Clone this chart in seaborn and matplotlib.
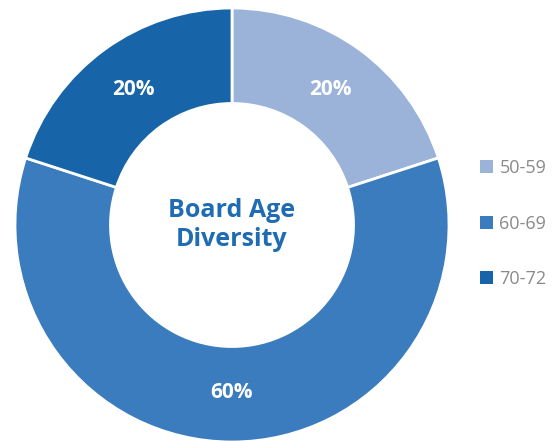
import matplotlib
matplotlib.use("Agg")
import matplotlib.pyplot as plt
import seaborn as sns
from matplotlib.patches import Patch

categories = ["50-59", "60-69", "70-72"]
values = [20, 60, 20]
colors = ["#9bb3d9", "#3a7cbd", "#1764a8"]
center_title = "Board Age\nDiversity"

sns.set_theme(style="white")
plt.rcParams['font.family'] = ['Open Sans', 'DejaVu Sans']

W, H = 557, 441
fig = plt.figure(figsize=(W / 100, H / 100), dpi=100)
cx, cy, r = 232, 225, 217
ax = fig.add_axes([(cx - r) / W, (H - cy - r) / H, 2 * r / W, 2 * r / H])

wedges, texts, autotexts = ax.pie(
    values, colors=colors, startangle=90, counterclock=False, radius=1.0,
    autopct=lambda p: f"{p:.0f}%", pctdistance=0.77,
    wedgeprops=dict(width=0.44, edgecolor="white", linewidth=2),
    textprops=dict(color="white", fontsize=15, fontweight="bold"),
)
ax.set_xlim(-1, 1)
ax.set_ylim(-1, 1)
ax.set_aspect("equal")
ax.axis("off")

ax.text(0, 0.0, center_title, ha="center", va="center", color="#1f6cb3",
        fontsize=18, fontweight="bold", linespacing=1.2)

handles = [Patch(facecolor=c, edgecolor="none") for c in colors]
leg = fig.legend(handles, categories, loc="upper left",
                 bbox_to_anchor=(480 / W, 1 - 159 / H), frameon=False,
                 borderpad=0, borderaxespad=0,
                 fontsize=13, labelcolor="#8a8a8a", handlelength=0.72,
                 handleheight=0.72, handletextpad=0.35, labelspacing=2.08)

fig.savefig("out.png", dpi=100)
